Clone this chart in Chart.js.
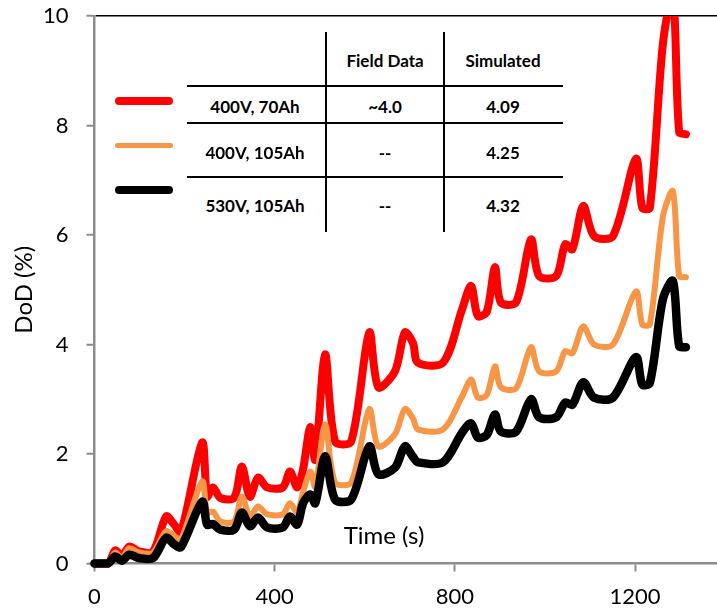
<!DOCTYPE html>
<html>
<head>
<meta charset="utf-8">
<script src="https://cdn.jsdelivr.net/npm/chart.js@4.4.1/dist/chart.umd.min.js"></script>
<style>
  html, body { margin: 0; padding: 0; background: #fff; }
  #wrap { position: relative; width: 717px; height: 610px; overflow: hidden; background: #fff; }
  #chartBox { position: absolute; left: 0; top: 0; width: 717px; height: 610px; }
  .ov { position: absolute; font-family: Lato, "Open Sans", sans-serif; color: #000; white-space: nowrap; transform: translate(-50%, -50%); }
  .tb { font-weight: bold; font-size: 17px; }
  .hl { position: absolute; background: #000; height: 2px; }
  .vl { position: absolute; background: #000; width: 2.5px; }
  .leg { position: absolute; border-radius: 4px; }
  #tblBg { position: absolute; left: 187px; top: 30px; width: 377px; height: 203px; background: #fff; }
</style>
</head>
<body>
<div id="wrap">
  <div id="chartBox"><canvas id="c"></canvas></div>
  <div id="overlay"></div>
</div>
<script>
// ---- data ----
const timeSec = [0,30,46,61,77,99,130,159,177,192,239,250,263,279,310,327,345,363,383,418,434,450,463,479,490,512,534,570,610,630,667,689,707,718,774,816,836,851,871,889,902,936,969,987,1025,1045,1061,1085,1109,1151,1202,1216,1233,1262,1284,1298,1313];
const dod400V70Ah = [0,0,0.24,0.13,0.31,0.22,0.22,0.86,0.71,0.57,2.21,1.22,1.39,1.2,1.2,1.77,1.22,1.57,1.39,1.39,1.68,1.39,1.72,2.49,1.9,3.82,2.23,2.23,4.22,3.22,3.51,4.22,4.03,3.67,3.67,4.64,5.07,4.52,4.6,5.41,4.77,4.77,5.92,5.25,5.25,5.83,5.74,6.53,5.98,5.98,7.39,6.5,6.5,9.5,10.4,7.88,7.84];
const dod400V105Ah = [0,0,0.2,0.1,0.28,0.2,0.2,0.59,0.5,0.44,1.5,0.93,0.95,0.77,0.77,1.22,0.86,1.04,0.9,0.9,1.1,0.93,1.3,1.68,1.4,2.54,1.48,1.48,2.82,2.14,2.36,2.82,2.65,2.45,2.45,3.05,3.36,3.03,3.08,3.6,3.22,3.2,3.95,3.51,3.51,3.88,3.84,4.33,4.0,4.0,4.97,4.37,4.37,6.34,6.8,5.25,5.23];
const dod530V105Ah = [0,0,0.13,0.05,0.16,0.1,0.1,0.47,0.35,0.3,1.13,0.71,0.72,0.62,0.62,0.93,0.68,0.84,0.66,0.66,0.86,0.71,1.1,1.26,1.1,1.96,1.17,1.17,2.14,1.63,1.75,2.14,1.95,1.85,1.85,2.39,2.56,2.3,2.35,2.72,2.41,2.41,3.0,2.67,2.67,2.94,2.9,3.31,3.03,3.03,3.77,3.27,3.3,4.83,5.16,3.97,3.95];
const xTicks = [0, 400, 800, 1200];
const yTicks = [0, 2, 4, 6, 8, 10];
const seriesNames = ["400V, 70Ah", "400V, 105Ah", "530V, 105Ah"];
const fieldData = ["~4.0", "--", "--"];
const simulated = ["4.09", "4.25", "4.32"];
const tableHeaders = ["Field Data", "Simulated"];
const xTitle = "Time (s)";
const yTitle = "DoD (%)";

const colors = ["#ff0000", "#f79646", "#000000"];
const widths = [8, 6, 8.5];
const seriesValues = [dod400V70Ah, dod400V105Ah, dod530V105Ah];

const toPts = arr => arr.map((v, i) => ({ x: timeSec[i], y: v }));

Chart.defaults.font.family = "Lato, 'Open Sans', sans-serif";
Chart.defaults.color = "#000";

const datasets = seriesValues.map((vals, i) => ({
  label: seriesNames[i],
  data: toPts(vals),
  borderColor: colors[i],
  backgroundColor: colors[i],
  borderWidth: widths[i],
  pointRadius: 0,
  pointHoverRadius: 0,
  tension: 0.3,
  fill: false,
  borderCapStyle: "round",
  borderJoinStyle: "round",
  order: 2 - i,
  clip: { left: 6, top: 0, right: 6, bottom: 6 }
}));

new Chart(document.getElementById("c"), {
  type: "line",
  data: { datasets },
  options: {
    responsive: true,
    maintainAspectRatio: false,
    animation: false,
    layout: { padding: { top: 16, left: 0, right: 0, bottom: 0 } },
    plugins: { legend: { display: false }, tooltip: { enabled: false } },
    scales: {
      x: {
        type: "linear",
        min: 0,
        max: 1382,
        afterBuildTicks: s => { s.ticks = xTicks.map(v => ({ value: v })); },
        afterFit: s => { s.height = 46.5; s.paddingLeft = 0; s.paddingRight = 0; },
        ticks: { font: { size: 22 }, color: "#000", padding: 12, maxRotation: 0, callback: v => String(v) },
        grid: { drawOnChartArea: false, tickLength: 8, tickColor: "#8c8c8c", tickWidth: 2 },
        border: { color: "#8c8c8c", width: 2.5 }
      },
      y: {
        min: 0,
        max: 10,
        afterBuildTicks: s => { s.ticks = yTicks.map(v => ({ value: v })); },
        afterFit: s => { s.width = 94.5; s.paddingTop = 0; s.paddingBottom = 0; },
        ticks: { font: { size: 22 }, color: "#000", padding: 18, callback: v => String(v) },
        grid: {
          color: c => (c.tick && c.tick.value === 10) ? "#000" : "rgba(0,0,0,0)",
          lineWidth: 1.5,
          tickLength: 8,
          tickColor: "#8c8c8c",
          tickWidth: 2
        },
        border: { color: "#8c8c8c", width: 2.5 },
        title: { display: true, text: yTitle, font: { size: 24 }, color: "#000", padding: { top: 10, bottom: 0 } }
      }
    }
  }
});

// ---- overlay: x title, legend table ----
const ov = document.getElementById("overlay");
function add(html) { ov.insertAdjacentHTML("beforeend", html); }
add(`<div class="ov" style="left:384px;top:534px;font-size:24px;">${xTitle}</div>`);
add(`<div id="tblBg"></div>`);
// grid lines of the table
add(`<div class="vl" style="left:324.5px;top:32px;height:200px;"></div>`);
add(`<div class="vl" style="left:442.5px;top:32px;height:200px;"></div>`);
[86, 123, 177].forEach(y => add(`<div class="hl" style="left:187px;width:376px;top:${y - 1}px;"></div>`));
// header
add(`<div class="ov tb" style="left:385px;top:60px;">${tableHeaders[0]}</div>`);
add(`<div class="ov tb" style="left:503px;top:60px;">${tableHeaders[1]}</div>`);
const rowY = [105.7, 151.7, 205];
const legY = [101, 145.7, 190];
const legH = [7.5, 5, 7.5];
rowY.forEach((y, i) => {
  add(`<div class="ov tb" style="left:255px;top:${y}px;">${seriesNames[i]}</div>`);
  add(`<div class="ov tb" style="left:385px;top:${y}px;">${fieldData[i]}</div>`);
  add(`<div class="ov tb" style="left:503px;top:${y}px;">${simulated[i]}</div>`);
  add(`<div class="leg" style="left:115px;width:58px;top:${legY[i] - legH[i] / 2}px;height:${legH[i]}px;background:${colors[i]};"></div>`);
});
</script>
</body>
</html>
